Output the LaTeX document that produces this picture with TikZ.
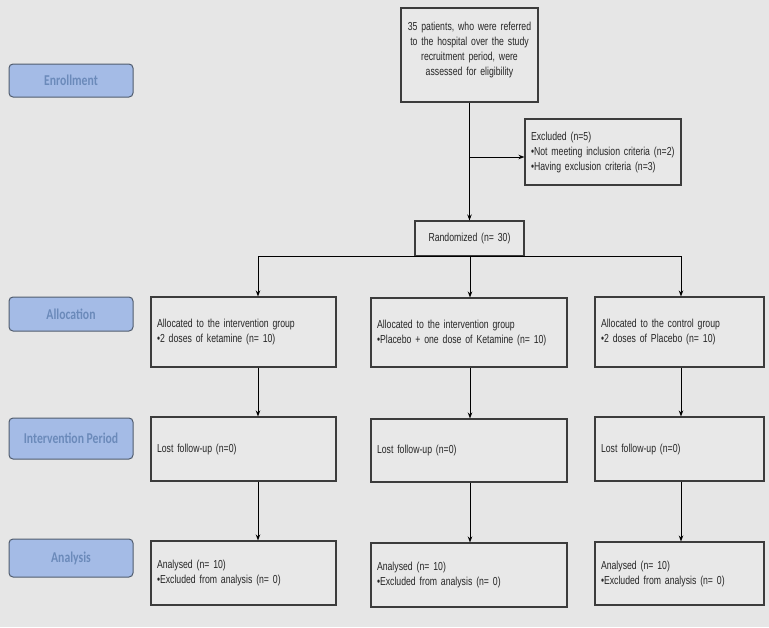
\documentclass[tikz,border=0pt]{standalone}
\usepackage{fontspec}
\setmainfont{Liberation Sans}
\newfontfamily\boxfont[FakeStretch=0.75]{Liberation Sans}
\newfontfamily\labfont[FakeStretch=0.78]{Carlito}
\usetikzlibrary{arrows.meta,calc}
\definecolor{bgc}{RGB}{230,230,230}
\definecolor{boxfill}{RGB}{232,232,232}
\definecolor{boxline}{RGB}{60,60,60}
\definecolor{labfill}{RGB}{164,187,230}
\definecolor{labline}{RGB}{80,92,110}
\definecolor{labtext}{RGB}{107,138,186}
\tikzset{
  flowbox/.style={draw=boxline, line width=1.1pt, fill=boxfill, rectangle,
    inner xsep=6pt, inner ysep=2pt, align=left,
    font=\boxfont\fontsize{11.6}{15}\selectfont, text=black!85},
  stagebox/.style={draw=labline, line width=1pt, fill=labfill, rounded corners=4pt,
    minimum width=124pt, text=labtext, font=\labfont\bfseries\fontsize{15}{15}\selectfont},
  conn/.style={draw=black, line width=0.9pt},
  arr/.style={conn, -{Stealth[length=6pt,width=4.5pt]}}
}
\begin{document}
\begin{tikzpicture}[x=1pt,y=-1pt]
\fill[bgc] (0,0) rectangle (769,627);
\useasboundingbox (0,0) rectangle (769,627);

% stage labels
\node[stagebox, minimum height=33pt] (enr) at (71,80.5) {Enrollment};
\node[stagebox, minimum height=34pt] (all) at (71,314) {Allocation};
\node[stagebox, minimum height=41pt] (int) at (71,438.5) {Intervention Period};
\node[stagebox, minimum height=38pt] (ana) at (71,558) {Analysis};

% top
\node[flowbox, align=center, minimum width=137pt, minimum height=94pt, text width=125pt] (top) at (469.5,55)
  {35 patients, who were referred\\to the hospital over the study\\recruitment period, were\\assessed for eligibility\par\vspace*{10pt}};
\node[flowbox, minimum width=156pt, minimum height=66pt, text width=144pt] (excl) at (603,152)
  {\mbox{Excluded (n=5)}\\\mbox{\textbullet Not meeting inclusion criteria (n=2)}\\\mbox{\textbullet Having exclusion criteria (n=3)}};
\node[flowbox, align=center, minimum width=109pt, minimum height=35pt, text width=97pt] (rand) at (469.5,238.5)
  {Randomized (n= 30)};

% allocation
\node[flowbox, minimum width=185pt, minimum height=70pt, text width=173pt] (al1) at (243.5,332)
  {Allocated to the intervention group\\\textbullet 2 doses of ketamine (n= 10)};
\node[flowbox, minimum width=196pt, minimum height=69pt, text width=184pt] (al2) at (469,332.5)
  {Allocated to the intervention group\\\textbullet Placebo + one dose of Ketamine (n= 10)};
\node[flowbox, minimum width=169pt, minimum height=70pt, text width=157pt] (al3) at (679.5,332)
  {Allocated to the control group\\\textbullet 2 doses of Placebo (n= 10)};

% intervention
\node[flowbox, minimum width=185pt, minimum height=64pt, text width=173pt] (iv1) at (243.5,449)
  {Lost follow-up (n=0)};
\node[flowbox, minimum width=196pt, minimum height=63pt, text width=184pt] (iv2) at (469,450.5)
  {Lost follow-up (n=0)};
\node[flowbox, minimum width=169pt, minimum height=64pt, text width=157pt] (iv3) at (679.5,449)
  {Lost follow-up (n=0)};

% analysis
\node[flowbox, minimum width=185pt, minimum height=64pt, text width=173pt] (an1) at (243.5,573)
  {Analysed (n= 10)\\\textbullet Excluded from analysis (n= 0)};
\node[flowbox, minimum width=196pt, minimum height=64pt, text width=184pt] (an2) at (469,575)
  {Analysed (n= 10)\\\textbullet Excluded from analysis (n= 0)};
\node[flowbox, minimum width=169pt, minimum height=63pt, text width=157pt] (an3) at (679.5,573.5)
  {Analysed (n= 10)\\\textbullet Excluded from analysis (n= 0)};

% column coordinates
\coordinate (c1) at (258,0);
\coordinate (c2) at (470,0);
\coordinate (c3) at (681,0);
\coordinate (ex) at (470,157);

% connectors
\draw[arr] (top.south) -- (rand.north);
\draw[arr] (ex) -- (ex -| excl.west);
\draw[arr] (rand.south) -| (c1 |- al1.north);
\draw[arr] (rand.south) -| (c3 |- al3.north);
\draw[arr] (c2 |- rand.south) -- (c2 |- al2.north);

\draw[arr] (c1 |- al1.south) -- (c1 |- iv1.north);
\draw[arr] (c2 |- al2.south) -- (c2 |- iv2.north);
\draw[arr] (c3 |- al3.south) -- (c3 |- iv3.north);

\draw[arr] (c1 |- iv1.south) -- (c1 |- an1.north);
\draw[arr] (c2 |- iv2.south) -- (c2 |- an2.north);
\draw[arr] (c3 |- iv3.south) -- (c3 |- an3.north);
\end{tikzpicture}
\end{document}
